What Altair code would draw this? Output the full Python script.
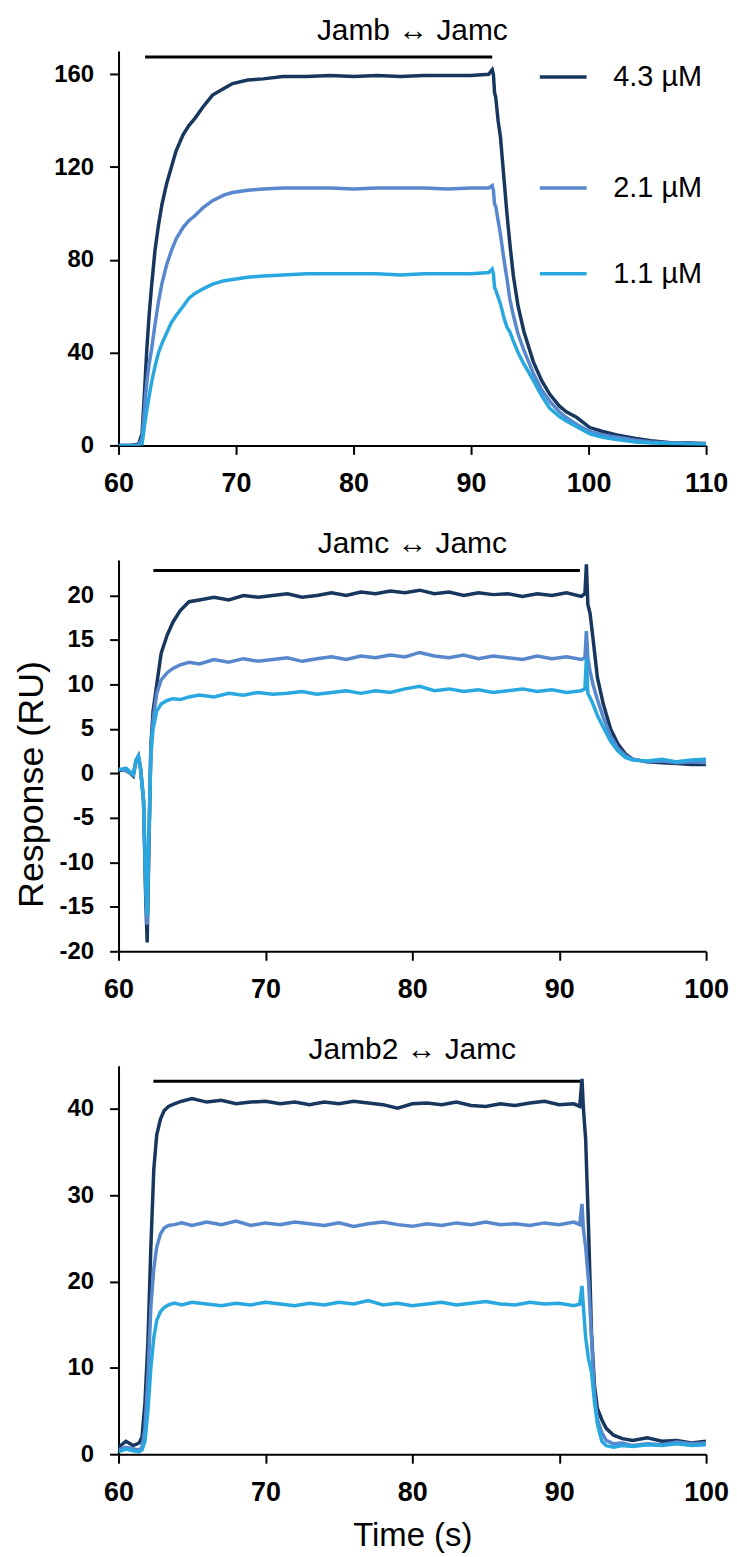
import altair as alt
import pandas as pd

SERIES = ["4.3 µM", "2.1 µM", "1.1 µM"]
COLORS = ["#17375e", "#5787cc", "#29a8e0"]

TITLES = ["Jamb \u2194 Jamc", "Jamc \u2194 Jamc", "Jamb2 \u2194 Jamc"]
TITLE_OFFSETS = [5, 1, 1]
X_DOMAINS = [[60, 110], [60, 100], [60, 100]]
X_TICKS = [[60, 70, 80, 90, 100, 110], [60, 70, 80, 90, 100], [60, 70, 80, 90, 100]]
Y_DOMAINS = [[0, 170], [-20, 24], [0, 45]]
Y_TICKS = [[0, 40, 80, 120, 160], [-20, -15, -10, -5, 0, 5, 10, 15, 20], [0, 10, 20, 30, 40]]

# injection period bars (start, end, level)
INJ_START = [62.26, 62.37, 62.37]
INJ_END = [91.8, 91.41, 91.41]
INJ_LEVEL = [167.4, 22.8, 43.2]

# legend entries of the first panel, drawn at the plateau levels
LEG_LEVEL = [158.8, 111.0, 74.0]
LEG_LINE = [95.85, 99.83]
LEG_TEXT = 102.1

# ---------------- Panel 1: Jamb <-> Jamc ----------------
T1 = [60, 61, 61.7, 62.0, 62.2, 62.4, 62.6, 62.8, 63.1, 63.4,
      63.7, 64.1, 64.5, 64.9, 65.5, 66.0, 66.5, 67.2, 68.0, 69.0,
      69.7, 71.0, 72.3, 74, 76, 78, 80, 82, 84, 86,
      88, 90, 91.5, 91.8, 91.9, 92.0, 92.1, 92.3, 92.5, 92.8,
      93.05, 93.3, 93.6, 94.0, 94.5, 95.3, 96.0, 96.7, 97.5, 98.1,
      99.0, 100.1, 101.2, 102.4, 104, 105.3, 107, 108.5, 110]
P1_43 = [0, 0, 0.5, 5, 22, 41, 56, 68, 84, 95,
         104, 113, 120, 127, 134, 138, 141, 146, 151, 154,
         156, 157.5, 158, 159, 159, 159.5, 159, 159.5, 159, 159.5,
         159.5, 159.5, 160, 162, 160, 152, 150, 140, 133, 115,
         100, 87, 73, 60, 49, 36, 28, 22, 17, 14.5,
         12, 7.7, 6, 4.5, 3, 2, 1.2, 1, 0.8]
P1_21 = [0, 0, 0, 3, 15, 27, 35, 41, 52, 62,
         70, 78, 84, 89, 94, 97, 99, 102.5, 105.5, 108,
         109, 110, 110.5, 111, 111, 111, 110.5, 111, 111, 111,
         110.5, 111, 111, 112, 110, 104, 103, 97, 91, 80,
         72, 63, 56, 48, 41, 31, 24, 19, 14.5, 12,
         9, 6, 4.5, 3.5, 2.2, 1.5, 1, 0.8, 0.6]
P1_11 = [0, 0, 0, 0.5, 8, 15, 21, 27, 34, 40,
         44, 48.5, 53, 56, 60, 63.5, 65.5, 67.5, 69.5, 71,
         71.5, 72.5, 73, 73.5, 74, 74, 74, 74, 73.5, 74,
         74, 74, 74.5, 76, 74, 68, 67, 64, 61, 55,
         51, 49, 45, 40, 35, 28, 21.5, 16, 12.5, 10.5,
         8, 5, 3.5, 2.5, 1.5, 1, 0.8, 0.6, 0.5]

# ---------------- Panel 2: Jamc <-> Jamc ----------------
T2 = [60, 60.5, 61.0, 61.2, 61.35, 61.5, 61.7, 61.85, 61.95, 62.05,
      62.2, 62.35, 62.6, 62.9, 63.3, 63.7, 64.2, 64.8, 65.5, 66.5,
      67.5, 68.5, 69.5, 70.5, 71.5, 72.5, 73.5, 74.5, 75.5, 76.5,
      77.5, 78.5, 79.5, 80.5, 81.5, 82.5, 83.5, 84.5, 85.5, 86.5,
      87.5, 88.5, 89.5, 90.5, 91.5, 91.75, 91.85, 91.95, 92.1, 92.3,
      92.6, 93.0, 93.5, 94.0, 94.5, 95, 96, 97, 98, 99,
      100]
P2_43 = [0.3, 0.5, -0.3, 1.5, 1.9, 0.5, -3, -14, -19, -10,
         3, 7, 10, 13.5, 15.5, 17, 18.3, 19.3, 19.5, 19.8,
         19.5, 20, 19.8, 20, 20.2, 19.8, 20, 20.3, 20, 20.4,
         20.2, 20.5, 20.3, 20.6, 20.2, 20.4, 20, 20.3, 20.1, 20.2,
         19.9, 20.2, 20, 20.3, 19.9, 20.2, 23.5, 19, 18, 15.2,
         10.8, 7.8, 5, 3.3, 2.2, 1.6, 1.3, 1.2, 1.1, 1,
         1]
P2_21 = [0.5, 0.3, -0.2, 1.5, 2, 0.5, -3, -13, -17, -9,
         3, 6, 9, 10.5, 11.3, 11.8, 12.2, 12.5, 12.3, 12.8,
         12.5, 12.9, 12.6, 12.8, 13, 12.6, 12.9, 13.1, 12.8, 13.2,
         13, 13.3, 13.1, 13.6, 13.2, 13, 13.3, 12.9, 13.2, 13,
         12.8, 13.2, 12.9, 13.1, 12.8, 13, 16, 13, 11.5, 10,
         8.3, 6.3, 4.2, 2.8, 2, 1.6, 1.3, 1.4, 1.2, 1.3,
         1.2]
P2_11 = [0.4, 0.6, -0.1, 1.5, 1.9, 0.6, -3, -12, -16, -8,
         2, 5, 7, 7.8, 8.2, 8.4, 8.3, 8.6, 8.8, 8.6,
         9, 8.8, 9.1, 8.9, 9, 9.2, 8.9, 9.1, 9.3, 9,
         9.3, 9.1, 9.5, 9.8, 9.3, 9.5, 9.2, 9.4, 9.1, 9.3,
         9.5, 9.2, 9.4, 9.1, 9.3, 9.5, 13, 9, 8.5, 7.8,
         6.5, 5.2, 3.6, 2.5, 1.8, 1.5, 1.4, 1.6, 1.3, 1.5,
         1.6]

# ---------------- Panel 3: Jamb2 <-> Jamc ----------------
T3 = [60, 60.5, 61.0, 61.4, 61.6, 61.8, 62.0, 62.2, 62.4, 62.6,
      62.85, 63.1, 63.4, 63.8, 64.3, 65, 66, 67, 68, 69,
      70, 71, 72, 73, 74, 75, 76, 77, 78, 79,
      80, 81, 82, 83, 84, 85, 86, 87, 88, 89,
      90, 91, 91.4, 91.55, 91.65, 91.8, 92.0, 92.2, 92.4, 92.6,
      92.9, 93.2, 93.7, 94.3, 95, 96, 97, 98, 99, 100]
P3_43 = [0.8, 1.5, 1, 1.3, 2, 6, 13, 24, 33, 37,
         38.8, 39.8, 40.3, 40.6, 40.9, 41.2, 40.8, 41, 40.6, 40.8,
         40.9, 40.6, 40.8, 40.5, 40.8, 40.6, 40.9, 40.7, 40.5, 40.1,
         40.6, 40.7, 40.5, 40.8, 40.4, 40.3, 40.6, 40.4, 40.7, 40.9,
         40.5, 40.6, 40.3, 43.5, 40, 36.5, 26, 14, 8, 5.3,
         4, 3, 2.2, 1.8, 1.6, 1.9, 1.5, 1.6, 1.3, 1.5]
P3_21 = [0.5, 0.8, 0.6, 0.5, 0.8, 3, 9, 17, 21.5, 24,
         25.5, 26.2, 26.5, 26.6, 26.8, 26.5, 26.9, 26.6, 27, 26.5,
         26.8, 26.6, 26.9, 26.7, 26.5, 26.8, 26.4, 26.7, 26.9, 26.6,
         26.4, 26.7, 26.5, 26.8, 26.6, 26.9, 26.6, 26.7, 26.5, 26.8,
         26.6, 26.9, 26.6, 29, 26, 24, 20, 13.5, 7, 4,
         2.5, 1.6, 1.2, 1.3, 1, 1.2, 1.1, 1.4, 1.2, 1.3]
P3_11 = [0.3, 0.6, 0.4, 0.3, 0.5, 1.5, 5, 10, 13.5, 15.5,
         16.5, 17, 17.3, 17.5, 17.3, 17.6, 17.4, 17.2, 17.5, 17.3,
         17.6, 17.4, 17.2, 17.5, 17.3, 17.6, 17.4, 17.8, 17.3, 17.5,
         17.2, 17.4, 17.6, 17.3, 17.5, 17.7, 17.4, 17.3, 17.6, 17.4,
         17.5, 17.2, 17.4, 19.5, 17, 13.5, 11, 9.5, 6, 3.5,
         1.5, 1, 0.8, 1, 0.9, 1.1, 1, 1.2, 1, 1.1]

PANELS = [(T1, P1_43, P1_21, P1_11), (T2, P2_43, P2_21, P2_11), (T3, P3_43, P3_21, P3_11)]
HEIGHTS = [396, 393, 390]

FONT = "Liberation Sans"


def long_df(t, a, b, c):
    rows = []
    for name, vals in zip(SERIES, (a, b, c)):
        for ti, vi in zip(t, vals):
            rows.append({"t": ti, "v": vi, "s": name})
    return pd.DataFrame(rows)


def make_panel(i):
    t, a, b, c = PANELS[i]
    df = long_df(t, a, b, c)
    xs = alt.Scale(domain=X_DOMAINS[i], nice=False, zero=False)
    ys = alt.Scale(domain=Y_DOMAINS[i], nice=False, zero=False)

    xaxis_kw = dict(values=X_TICKS[i], labelFontSize=27, labelPadding=16, labelFlush=False,
                    titleFontSize=33, titlePadding=15)
    if i == 2:
        xaxis = alt.Axis(title="Time (s)", **xaxis_kw)
    else:
        xaxis = alt.Axis(title=None, **xaxis_kw)

    yaxis_kw = dict(values=Y_TICKS[i], labelFontSize=24, labelPadding=16,
                    labelExpr="'' + datum.value", titleFontSize=36, titlePadding=9)
    if i == 1:
        yaxis = alt.Axis(title="Response (RU)", titleY=225, **yaxis_kw)
    else:
        yaxis = alt.Axis(title=None, **yaxis_kw)

    layers = []
    for name, col in zip(SERIES, COLORS):
        layers.append(
            alt.Chart(df).transform_filter(alt.datum.s == name)
            .mark_line(color=col, strokeWidth=3.5, clip=True)
            .encode(
                x=alt.X("t:Q", scale=xs, axis=xaxis),
                y=alt.Y("v:Q", scale=ys, axis=yaxis),
            )
        )

    bar_df = pd.DataFrame({"x0": [INJ_START[i]], "x1": [INJ_END[i]], "y": [INJ_LEVEL[i]]})
    bar = alt.Chart(bar_df).mark_rule(color="black", strokeWidth=3).encode(
        x=alt.X("x0:Q", scale=xs, axis=xaxis),
        x2="x1:Q",
        y=alt.Y("y:Q", scale=ys, axis=yaxis),
    )
    layers.append(bar)

    if i == 0:
        leg_df = pd.DataFrame({
            "s": SERIES,
            "x0": [LEG_LINE[0]] * 3,
            "x1": [LEG_LINE[1]] * 3,
            "tx": [LEG_TEXT] * 3,
            "y": LEG_LEVEL,
        })
        cscale = alt.Scale(domain=SERIES, range=COLORS)
        leg_rule = alt.Chart(leg_df).mark_rule(strokeWidth=3.5).encode(
            x=alt.X("x0:Q", scale=xs, axis=xaxis),
            x2="x1:Q",
            y=alt.Y("y:Q", scale=ys, axis=yaxis),
            color=alt.Color("s:N", scale=cscale, legend=None),
        )
        leg_text = alt.Chart(leg_df).mark_text(
            align="left", baseline="middle", fontSize=29, font=FONT, color="black"
        ).encode(
            x=alt.X("tx:Q", scale=xs, axis=xaxis),
            y=alt.Y("y:Q", scale=ys, axis=yaxis),
            text="s:N",
        )
        layers += [leg_rule, leg_text]

    return alt.layer(*layers).properties(
        width=590,
        height=HEIGHTS[i],
        title=alt.TitleParams(text=TITLES[i], fontSize=30, font=FONT, fontWeight="normal",
                              color="black", anchor="middle", offset=TITLE_OFFSETS[i]),
    )


chart = alt.vconcat(make_panel(0), make_panel(1), make_panel(2), spacing=33).properties(
    padding={"left": 5, "top": 5, "right": 0, "bottom": 2}
).configure_view(stroke=None).configure_axis(
    domainColor="black", domainWidth=2, tickColor="black", tickWidth=2, tickSize=9,
    grid=False, labelFont=FONT, labelFontWeight="bold", labelColor="black",
    titleFont=FONT, titleFontWeight="normal", titleColor="black",
)

chart.save("out.html", embed_options={"renderer": "svg", "actions": False})
